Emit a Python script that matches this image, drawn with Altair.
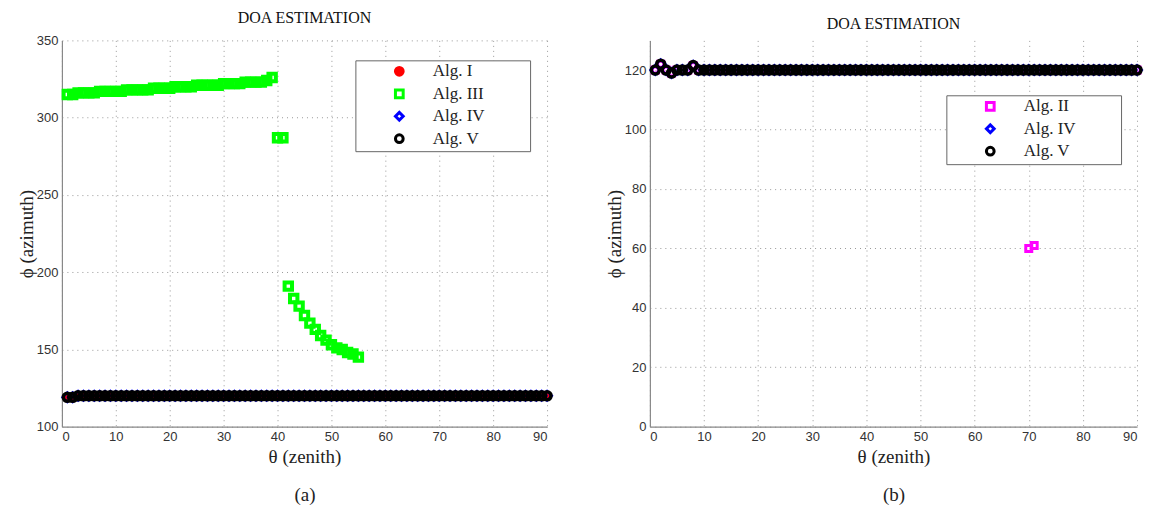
import altair as alt
import pandas as pd

# ---------------- data ----------------
theta = list(range(1, 91))

# panel (a)
a_alg1 = [119, 119] + [120] * 88
a_alg3_theta = list(range(1, 56))
a_alg3 = [315, 315, 316, 316, 316, 316, 317, 317, 317, 317, 317,
          318, 318, 318, 318, 318, 319, 319, 319, 319, 320, 320, 320, 320,
          321, 321, 321, 321, 321, 322, 322, 322, 322, 323, 323, 323, 323,
          324, 326, 287, 287,
          191, 183, 178, 172, 167, 163, 159, 156, 153, 151, 150, 148, 147, 145]
a_alg4 = [119, 119] + [120] * 88
a_alg5 = [119, 119] + [120] * 88

# panel (b)
b_alg2 = [120, 122, 120, 119, 120, 120, 120, 121.5] + [120] * 61 + [60, 61] + [120] * 19
b_alg4 = [120, 122, 120, 119, 120, 120, 120, 121.5] + [120] * 82
b_alg5 = [120, 122, 120, 119, 120, 120, 120, 121.5] + [120] * 82

a_names = ["Alg. I", "Alg. III", "Alg. IV", "Alg. V"]
a_shapes = ["circle", "square", "diamond", "circle"]
a_strokes = ["#ff0000", "#00ff00", "#0000ff", "#000000"]
a_fills = ["#ff0000", "transparent", "transparent", "transparent"]
a_sizes = [30, 55, 90, 65]
a_widths = [1, 4, 2.5, 3.5]

b_names = ["Alg. II", "Alg. IV", "Alg. V"]
b_shapes = ["square", "diamond", "circle"]
b_strokes = ["#ff00ff", "#0000ff", "#000000"]
b_fills = ["transparent", "transparent", "transparent"]
b_sizes = [36, 90, 65]
b_widths = [3, 2.5, 3.5]


def long_df(series):
    rows = []
    for name, xs, ys in series:
        for x, y in zip(xs, ys):
            rows.append({"theta": x, "phi": y, "alg": name})
    return pd.DataFrame(rows)


df_a = long_df([("Alg. I", theta, a_alg1), ("Alg. III", a_alg3_theta, a_alg3),
                ("Alg. IV", theta, a_alg4), ("Alg. V", theta, a_alg5)])
df_b = long_df([("Alg. II", theta, b_alg2), ("Alg. IV", theta, b_alg4),
                ("Alg. V", theta, b_alg5)])

SERIF = "Liberation Serif"
SANS = "Liberation Sans"
PAD = "\u00a0" * 10 + "\u200b"


def panel(df, names, shapes, strokes, fills, sizes, widths, ydom, yvals, sub, lx, ly, w):
    leg = alt.Legend(orient="none", legendX=lx, legendY=ly, title=None,
                     fillColor="white", strokeColor="#666", padding=2.5,
                     labelFont=SERIF, labelFontSize=17, labelColor="#222",
                     symbolSize=60, symbolStrokeWidth=3, rowPadding=1.5,
                     symbolOffset=33, labelOffset=25,
                     labelExpr="datum.label + '" + PAD + "'")
    enc = dict(
        x=alt.X("theta:Q", scale=alt.Scale(domain=[0, 90], nice=False),
                axis=alt.Axis(values=list(range(0, 91, 10)),
                              title=["θ (zenith)", "(" + sub + ")"],
                              titleLineHeight=38, titlePadding=4)),
        y=alt.Y("phi:Q", scale=alt.Scale(domain=ydom, nice=False, zero=False),
                axis=alt.Axis(values=yvals, title="ϕ (azimuth)", titlePadding=0)),
        shape=alt.Shape("alg:N", scale=alt.Scale(domain=names, range=shapes), legend=leg),
        stroke=alt.Stroke("alg:N", scale=alt.Scale(domain=names, range=strokes), legend=leg),
        fill=alt.Fill("alg:N", scale=alt.Scale(domain=names, range=fills), legend=leg),
    )
    layers = []
    for n, s, sw in zip(names, sizes, widths):
        layers.append(
            alt.Chart(df).transform_filter(alt.datum.alg == n)
            .mark_point(size=s, strokeWidth=sw, opacity=1)
            .encode(**enc)
        )
    return alt.layer(*layers).properties(
        width=w, height=387,
        title=alt.TitleParams("DOA ESTIMATION", font=SERIF, fontSize=16,
                              fontWeight="normal", offset=8, anchor="middle",
                              color="#111"),
    )


left = panel(df_a, a_names, a_shapes, a_strokes, a_fills, a_sizes, a_widths,
             [100, 350], list(range(100, 351, 50)), "a", 294, 20, 486)
right = panel(df_b, b_names, b_shapes, b_strokes, b_fills, b_sizes, b_widths,
              [0, 130], list(range(0, 121, 20)), "b", 297, 55, 488)

chart = alt.hconcat(left, right, spacing=46).resolve_scale(
    shape="independent", stroke="independent", fill="independent",
    x="independent", y="independent"
).resolve_legend(shape="independent", stroke="independent", fill="independent"
).properties(
    padding={"left": 9, "top": 2, "right": 0, "bottom": 0}
).configure_view(stroke=None).configure_axis(
    domainColor="#888", domainWidth=1.2, ticks=False,
    grid=True, gridColor="#999", gridDash=[1, 4], gridWidth=1,
    labelFont=SANS, labelFontSize=13, labelColor="#333", labelPadding=4,
    titleFont=SERIF, titleFontSize=19, titleFontWeight="normal", titleColor="#222",
)

chart.save("out.html", embed_options={"renderer": "svg", "actions": False})
